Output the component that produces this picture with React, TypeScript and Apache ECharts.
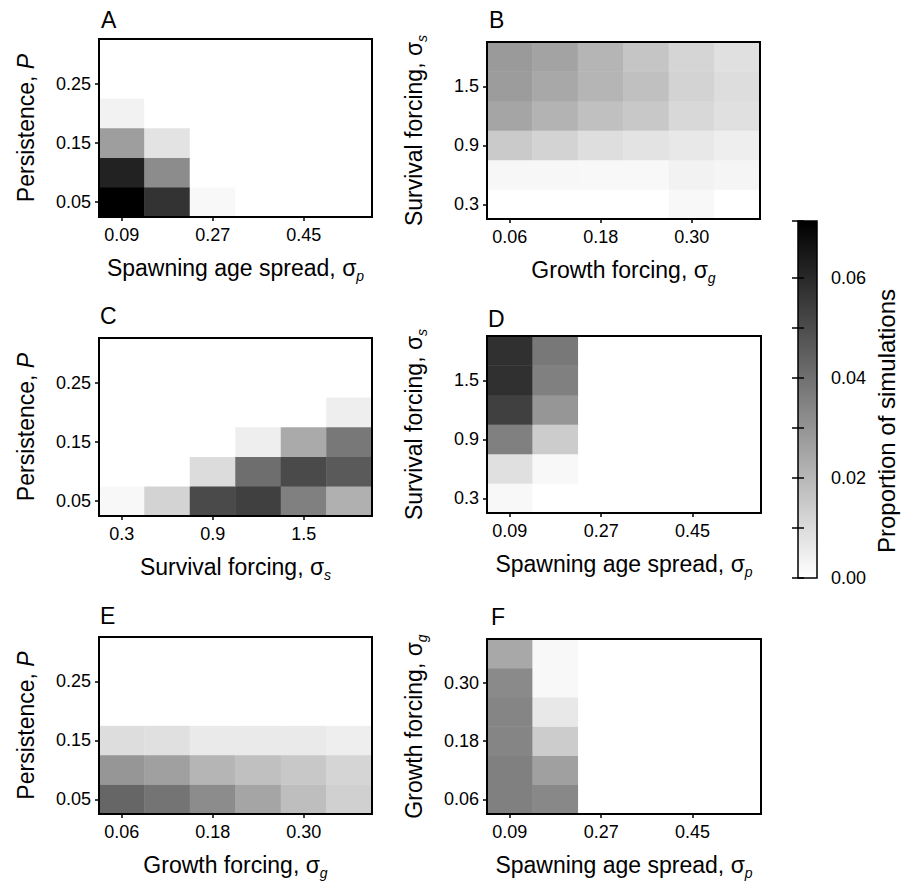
import React, { useEffect, useRef } from "react";
import * as echarts from "echarts";

// ---------- categories ----------
const spawningAge = ["0.09", "0.18", "0.27", "0.36", "0.45", "0.54"];
const persistence = ["0.05", "0.10", "0.15", "0.20", "0.25", "0.30"];
const survival = ["0.3", "0.6", "0.9", "1.2", "1.5", "1.8"];
const growth = ["0.06", "0.12", "0.18", "0.24", "0.30", "0.36"];

// ---------- values: rows from first y category (bottom) upward, columns along x ----------
const panelA = [
  [0.0714, 0.0571, 0.002, 0, 0, 0],
  [0.0619, 0.0322, 0, 0, 0, 0],
  [0.0272, 0.0078, 0, 0, 0, 0],
  [0.0036, 0, 0, 0, 0, 0],
  [0, 0, 0, 0, 0, 0],
  [0, 0, 0, 0, 0, 0],
];
const panelB = [
  [0, 0, 0, 0, 0.002, 0],
  [0.0022, 0.0022, 0.002, 0.002, 0.0036, 0.0028],
  [0.0148, 0.0123, 0.0092, 0.0078, 0.0064, 0.0048],
  [0.0252, 0.0213, 0.0176, 0.0154, 0.0109, 0.0087],
  [0.0277, 0.0244, 0.0207, 0.0176, 0.0123, 0.0095],
  [0.0283, 0.0258, 0.0207, 0.0162, 0.0118, 0.0087],
];
const panelC = [
  [0.002, 0.0123, 0.0507, 0.0535, 0.0356, 0.0221],
  [0, 0, 0.0098, 0.0406, 0.0507, 0.0462],
  [0, 0, 0, 0.0048, 0.0238, 0.0378],
  [0, 0, 0, 0, 0, 0.0048],
  [0, 0, 0, 0, 0, 0],
  [0, 0, 0, 0, 0, 0],
];
const panelD = [
  [0.002, 0, 0, 0, 0, 0],
  [0.0087, 0.002, 0, 0, 0, 0],
  [0.0356, 0.0143, 0, 0, 0, 0],
  [0.0535, 0.0294, 0, 0, 0, 0],
  [0.058, 0.0356, 0, 0, 0, 0],
  [0.058, 0.0378, 0, 0, 0, 0],
];
const panelE = [
  [0.0428, 0.0389, 0.0322, 0.0252, 0.0182, 0.0132],
  [0.0294, 0.0266, 0.0207, 0.0176, 0.0154, 0.0118],
  [0.0095, 0.0087, 0.0059, 0.0059, 0.0059, 0.0048],
  [0, 0, 0, 0, 0, 0],
  [0, 0, 0, 0, 0, 0],
  [0, 0, 0, 0, 0, 0],
];
const panelF = [
  [0.0356, 0.0333, 0, 0, 0, 0],
  [0.0356, 0.0266, 0, 0, 0, 0],
  [0.0342, 0.0143, 0, 0, 0, 0],
  [0.0342, 0.0064, 0, 0, 0, 0],
  [0.0328, 0.002, 0, 0, 0, 0],
  [0.0244, 0.002, 0, 0, 0, 0],
];

const colorMax = 0.0714;
const colorbarTicks = [0, 0.01, 0.02, 0.03, 0.04, 0.05, 0.06, 0.0714];
const colorbarLabels = [0, 0.02, 0.04, 0.06];
const panelLetters = ["A", "B", "C", "D", "E", "F"];

const FONT = "'Liberation Sans', Arial, Helvetica, sans-serif";

const nameRich = {
  sub: { fontSize: 14, fontStyle: "italic", fontFamily: FONT, color: "#000", lineHeight: 30, verticalAlign: "bottom" },
  it: { fontSize: 23, fontStyle: "italic", fontFamily: FONT, color: "#000", lineHeight: 30 },
};

const NAMES = {
  spawning: "Spawning age spread, σ{sub|p}",
  growth: "Growth forcing, σ{sub|g}",
  survival: "Survival forcing, σ{sub|s}",
  persistence: "Persistence, {it|P}",
};

type Panel = {
  rect: { left: number; top: number; width: number; height: number };
  xCats: string[];
  yCats: string[];
  xName: string;
  yName: string;
  values: number[][];
  letterPos: [number, number];
};

const panels: Panel[] = [
  { rect: { left: 99, top: 39, width: 273, height: 178 }, xCats: spawningAge, yCats: persistence, xName: NAMES.spawning, yName: NAMES.persistence, values: panelA, letterPos: [101, 20] },
  { rect: { left: 487, top: 42, width: 273, height: 177 }, xCats: growth, yCats: survival, xName: NAMES.growth, yName: NAMES.survival, values: panelB, letterPos: [489, 20] },
  { rect: { left: 99, top: 338, width: 273, height: 178 }, xCats: survival, yCats: persistence, xName: NAMES.survival, yName: NAMES.persistence, values: panelC, letterPos: [100, 316] },
  { rect: { left: 487, top: 336, width: 274, height: 177 }, xCats: spawningAge, yCats: survival, xName: NAMES.spawning, yName: NAMES.survival, values: panelD, letterPos: [488, 319] },
  { rect: { left: 99, top: 637, width: 273, height: 178 }, xCats: growth, yCats: persistence, xName: NAMES.growth, yName: NAMES.persistence, values: panelE, letterPos: [100, 616] },
  { rect: { left: 487, top: 639, width: 274, height: 175 }, xCats: spawningAge, yCats: growth, xName: NAMES.spawning, yName: NAMES.growth, values: panelF, letterPos: [491, 617] },
];

const CB = { left: 798, top: 221, width: 19, height: 357 };

function buildOption() {
  const grid: any[] = [];
  const xAxis: any[] = [];
  const yAxis: any[] = [];
  const series: any[] = [];
  const graphic: any[] = [];

  panels.forEach((p, i) => {
    grid.push({
      ...p.rect,
      show: true,
      borderColor: "#000",
      borderWidth: 2,
      backgroundColor: "transparent",
      z: 10,
      containLabel: false,
    });
    xAxis.push({
      type: "category",
      gridIndex: i,
      data: p.xCats,
      boundaryGap: true,
      axisLine: { show: false },
      axisTick: { show: true, interval: 1, alignWithLabel: true, length: 4, lineStyle: { color: "#000", width: 1.5 } },
      axisLabel: { interval: 1, color: "#000", fontSize: 18, fontFamily: FONT, margin: 9 },
      splitLine: { show: false },
      name: p.xName,
      nameLocation: "middle",
      nameGap: 36,
      nameTextStyle: { fontSize: 23, fontFamily: FONT, color: "#000", lineHeight: 30, rich: nameRich },
    });
    yAxis.push({
      type: "category",
      gridIndex: i,
      data: p.yCats,
      boundaryGap: true,
      axisLine: { show: false },
      axisTick: { show: true, interval: 1, alignWithLabel: true, length: 4, lineStyle: { color: "#000", width: 1.5 } },
      axisLabel: { interval: 1, color: "#000", fontSize: 18, fontFamily: FONT, margin: 8 },
      splitLine: { show: false },
      name: p.yName,
      nameLocation: "middle",
      nameRotate: 90,
      nameGap: 58,
      nameTextStyle: { fontSize: 23, fontFamily: FONT, color: "#000", lineHeight: 30, rich: nameRich },
    });
    const data: number[][] = [];
    p.values.forEach((row, yi) => row.forEach((v, xi) => data.push([xi, yi, v])));
    series.push({
      type: "heatmap",
      xAxisIndex: i,
      yAxisIndex: i,
      data,
      emphasis: { disabled: true },
      progressive: 0,
    });
    graphic.push({
      type: "text",
      x: p.letterPos[0],
      y: p.letterPos[1],
      style: { text: panelLetters[i], fontSize: 23, fontFamily: FONT, fill: "#000", align: "left", verticalAlign: "middle" },
    });
  });

  // colorbar
  grid.push({ ...CB, show: false });
  xAxis.push({ type: "value", gridIndex: 6, show: false, min: 0, max: 1 });
  const cbAxisBase = {
    type: "value",
    gridIndex: 6,
    min: 0,
    max: colorMax,
    axisLine: { show: false },
    splitLine: { show: false },
    axisTick: { show: true, length: 6, customValues: colorbarTicks, lineStyle: { color: "#000", width: 1.5 } },
  };
  yAxis.push({
    ...cbAxisBase,
    position: "right",
    axisLabel: {
      show: true,
      customValues: colorbarLabels,
      formatter: (v: number) => v.toFixed(2),
      color: "#000",
      fontSize: 18,
      fontFamily: FONT,
      margin: 14,
    },
  });
  yAxis.push({
    ...cbAxisBase,
    position: "left",
    axisLabel: { show: false },
  });
  graphic.push({
    type: "rect",
    shape: { x: CB.left, y: CB.top, width: CB.width, height: CB.height },
    style: {
      fill: new echarts.graphic.LinearGradient(0, 0, 0, 1, [
        { offset: 0, color: "#000000" },
        { offset: 1, color: "#ffffff" },
      ]),
      stroke: "#000",
      lineWidth: 1.5,
    },
    z: -1,
  });
  graphic.push({
    type: "text",
    x: 886,
    y: 421,
    rotation: Math.PI / 2,
    style: {
      text: "Proportion of simulations",
      fontSize: 24,
      fontFamily: FONT,
      fill: "#000",
      align: "center",
      verticalAlign: "middle",
    },
  });

  return {
    animation: false,
    backgroundColor: "#fff",
    grid,
    xAxis,
    yAxis,
    visualMap: {
      type: "continuous",
      show: false,
      min: 0,
      max: colorMax,
      dimension: 2,
      seriesIndex: [0, 1, 2, 3, 4, 5],
      inRange: { color: ["#ffffff", "#000000"] },
    },
    series,
    graphic,
  };
}

export default function App() {
  const ref = useRef<HTMLDivElement>(null);
  useEffect(() => {
    if (!ref.current) return;
    const chart = echarts.init(ref.current, null, { renderer: "svg" });
    chart.setOption(buildOption() as any);
    return () => chart.dispose();
  }, []);
  return (
    <div
      ref={ref}
      style={{ position: "absolute", left: 0, top: 0, width: 901, height: 881 }}
    />
  );
}
